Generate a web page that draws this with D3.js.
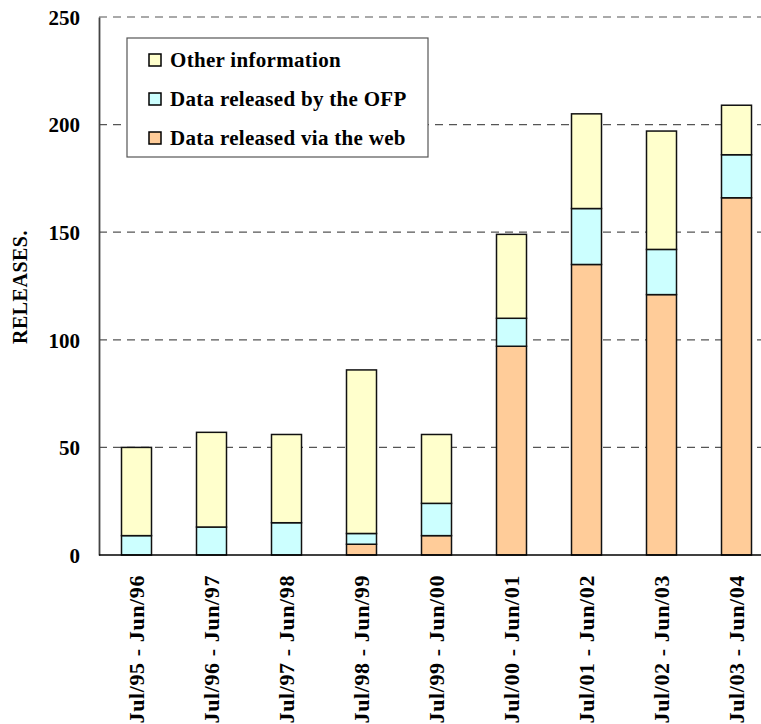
<!DOCTYPE html>
<html>
<head>
<meta charset="utf-8">
<script src="https://cdn.jsdelivr.net/npm/d3@7"></script>
<style>
    body { margin: 0; background: #fff; }
    svg text { font-family: "Liberation Serif", "Times New Roman", serif; font-weight: bold; fill: #000; }
</style>
</head>
<body>
<div id="chart"></div>
<script>
var periods = ['Jul/95 - Jun/96', 'Jul/96 - Jun/97', 'Jul/97 - Jun/98', 'Jul/98 - Jun/99',
               'Jul/99 - Jun/00', 'Jul/00 - Jun/01', 'Jul/01 - Jun/02', 'Jul/02 - Jun/03', 'Jul/03 - Jun/04'];
var viaWeb = [0, 0, 0, 5, 9, 97, 135, 121, 166];
var byOFP = [9, 13, 15, 5, 15, 13, 26, 21, 20];
var other = [41, 44, 41, 76, 32, 39, 44, 55, 23];
var yTicks = [0, 50, 100, 150, 200, 250];

var seriesNames = ['Data released via the web', 'Data released by the OFP', 'Other information'];
var colors = ['#FFCC99', '#CCFFFF', '#FFFFCC'];

var w = 761, h = 724,
    plotLeft = 99, plotTop = 17, plotBottom = 555, bandRight = 774;

var rows = periods.map(function(p, i) {
    return {period: p, web: viaWeb[i], ofp: byOFP[i], other: other[i]};
});
var stack = d3.stack().keys(['web', 'ofp', 'other'])(rows);

var x = d3.scaleBand().domain(periods).range([plotLeft, bandRight]).paddingInner(0.6).paddingOuter(0.3);
var y = d3.scaleLinear().domain([0, 250]).range([plotBottom, plotTop]);

var svg = d3.select('#chart').append('svg')
    .attr('width', w)
    .attr('height', h);

// gridlines
svg.append('g').selectAll('line')
    .data(yTicks.filter(function(d) { return d > 0; }))
    .enter().append('line')
    .attr('x1', plotLeft).attr('x2', w)
    .attr('y1', function(d) { return y(d); })
    .attr('y2', function(d) { return y(d); })
    .attr('stroke', '#555')
    .attr('stroke-width', 1.2)
    .attr('stroke-dasharray', '8,6');

// bars
svg.append('g').selectAll('g')
    .data(stack)
    .enter().append('g')
    .attr('fill', function(d, i) { return colors[i]; })
    .selectAll('rect')
    .data(function(d) { return d.filter(function(s) { return s[1] - s[0] > 0; }); })
    .enter().append('rect')
    .attr('x', function(d) { return x(d.data.period); })
    .attr('width', x.bandwidth())
    .attr('y', function(d) { return y(d[1]); })
    .attr('height', function(d) { return y(d[0]) - y(d[1]); })
    .attr('stroke', '#111')
    .attr('stroke-width', 1.5);

// axes
var yAxis = svg.append('g')
    .attr('transform', 'translate(' + plotLeft + ',0)')
    .call(d3.axisLeft(y).tickValues(yTicks).tickSize(0).tickPadding(19));
yAxis.select('.domain').attr('stroke', '#444').attr('stroke-width', 1.8);
yAxis.selectAll('text').style('font-size', '21px').attr('dy', '0.35em');

var xAxis = svg.append('g')
    .attr('transform', 'translate(0,' + plotBottom + ')')
    .call(d3.axisBottom(x).tickSize(0).tickSizeOuter(0));
xAxis.select('.domain').attr('d', 'M' + plotLeft + ',0H' + w).attr('stroke', '#000').attr('stroke-width', 1.5);
xAxis.selectAll('text')
    .style('font-size', '22px')
    .style('letter-spacing', '0.6px')
    .attr('text-anchor', 'end')
    .attr('transform', 'rotate(-90)')
    .attr('x', -20)
    .attr('y', 0)
    .attr('dy', '0.35em');

svg.append('text')
    .attr('transform', 'translate(27,' + 287 + ') rotate(-90)')
    .attr('text-anchor', 'middle')
    .style('font-size', '20px')
    .style('letter-spacing', '0.5px')
    .text('RELEASES.');

// legend
var legend = svg.append('g').attr('transform', 'translate(127,38)');
legend.append('rect')
    .attr('width', 301).attr('height', 119)
    .attr('fill', '#fff').attr('stroke', '#555').attr('stroke-width', 1.2);
var items = legend.selectAll('g.item')
    .data(seriesNames.slice().reverse())
    .enter().append('g')
    .attr('class', 'item')
    .attr('transform', function(d, i) { return 'translate(22,' + (22 + i * 39) + ')'; });
items.append('rect')
    .attr('x', 0).attr('y', -6).attr('width', 12).attr('height', 12)
    .attr('fill', function(d) { return colors[seriesNames.indexOf(d)]; })
    .attr('stroke', '#000').attr('stroke-width', 1.5);
items.append('text')
    .attr('x', 21).attr('dy', '0.35em')
    .style('font-size', '21px')
    .style('letter-spacing', '0.3px')
    .text(function(d) { return d; });
</script>
</body>
</html>
